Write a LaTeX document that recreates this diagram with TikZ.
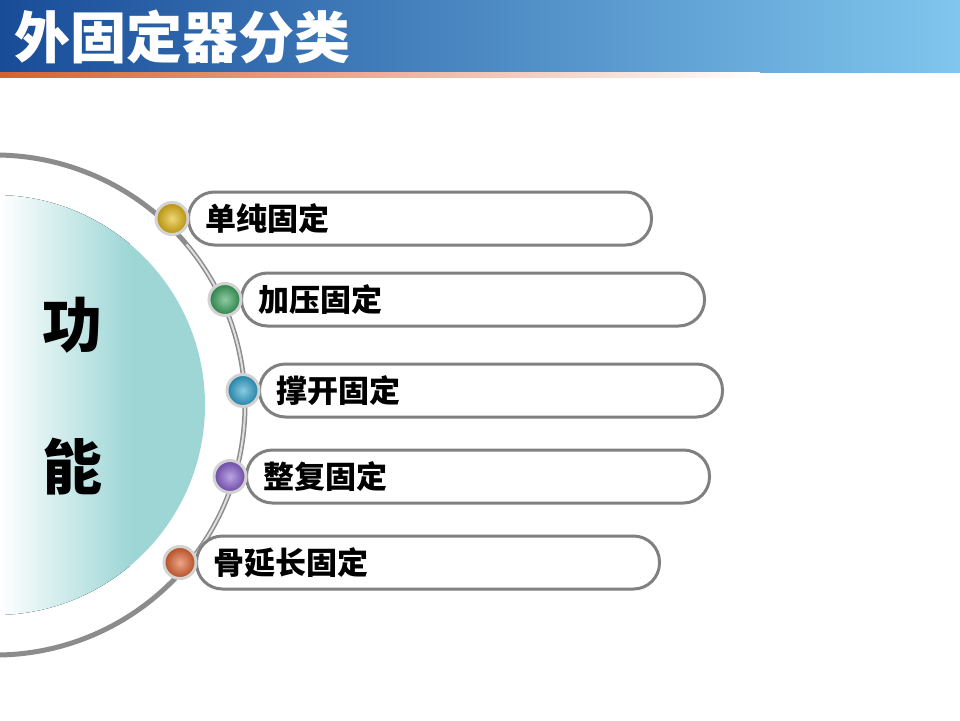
\documentclass[tikz,border=0pt]{standalone}
\usepackage{fontspec}
\setmainfont{Noto Sans CJK SC}
\usetikzlibrary{positioning}
\definecolor{TitleDark}{RGB}{24,76,152}
\definecolor{TitleLight}{RGB}{128,198,238}
\definecolor{StripeRed}{RGB}{214,96,54}
\definecolor{FuncTeal}{RGB}{158,214,214}
\definecolor{ArcGray}{RGB}{140,140,140}
\definecolor{PillGray}{RGB}{128,128,128}
\definecolor{DotYellow}{RGB}{226,180,10}
\definecolor{DotGreen}{RGB}{52,160,88}
\definecolor{DotBlue}{RGB}{40,160,204}
\definecolor{DotPurple}{RGB}{132,90,204}
\definecolor{DotOrange}{RGB}{222,94,40}
\tikzset{Pill/.style={%
    shape=rectangle,%
    draw=PillGray,%
    fill=white,%
    line width=3pt,%
    rounded corners=26pt,%
    minimum height=53pt,%
    minimum width=463pt,%
    text width=429pt,%
    inner xsep=17pt,%
    align=left,%
    anchor=west,%
    font=\fontsize{31}{31}\selectfont\bfseries,%
}}
\tikzset{Bullet/.style={%
    shape=circle,%
    draw=gray!35,%
    line width=3pt,%
    minimum size=32pt,%
    inner sep=0pt,%
    xshift=-15pt,%
    inner color=#1!55!white,%
    outer color=#1!80!black,%
}}
\tikzset{BigChar/.style={%
    font=\fontsize{60}{60}\selectfont\bfseries,%
    inner sep=0pt,%
}}

\begin{document}
\begin{tikzpicture}[x=1pt, y=-1pt]
    \useasboundingbox (0,0) rectangle (960,720);
    \fill[white] (0,0) rectangle (960,720);

    % title bar
    \fill[left color=TitleDark, right color=TitleLight] (0,0) rectangle (960,72);
    \fill[left color=StripeRed, right color=white] (0,72) rectangle (760,77);
    \node[anchor=west, text=white, inner sep=0pt,
        font=\fontsize{56}{56}\selectfont\bfseries] (title) at (14,37) {外固定器分类};

    % half disc and arc
    \fill[FuncTeal] (-5,405) circle (210);
    \begin{scope}
        \clip (-5,405) circle (210);
        \fill[left color=white, right color=FuncTeal] (0,190) rectangle (130,620);
    \end{scope}
    \draw[ArcGray, line width=5pt] (-5,405) ++(95:250) arc (95:-95:250);
    \draw[gray!25, line width=2pt] (-5,405) ++(40:250) arc (40:-40:250);

    \node[BigChar] (gong) at (72,325) {功};
    \node[BigChar] (neng) at (72,467) {能};

    % items
    \node[Pill] (p1) at (187,218.5) {单纯固定};
    \node[Pill] (p2) at (240,299.5) {加压固定};
    \node[Pill] (p3) at (258,390.5) {撑开固定};
    \node[Pill] (p4) at (245,476.5) {整复固定};
    \node[Pill] (p5) at (195,562.5) {骨延长固定};

    \node[Bullet=DotYellow] (b1) at (p1.west) {};
    \node[Bullet=DotGreen] (b2) at (p2.west) {};
    \node[Bullet=DotBlue] (b3) at (p3.west) {};
    \node[Bullet=DotPurple] (b4) at (p4.west) {};
    \node[Bullet=DotOrange] (b5) at (p5.west) {};
\end{tikzpicture}
\end{document}
